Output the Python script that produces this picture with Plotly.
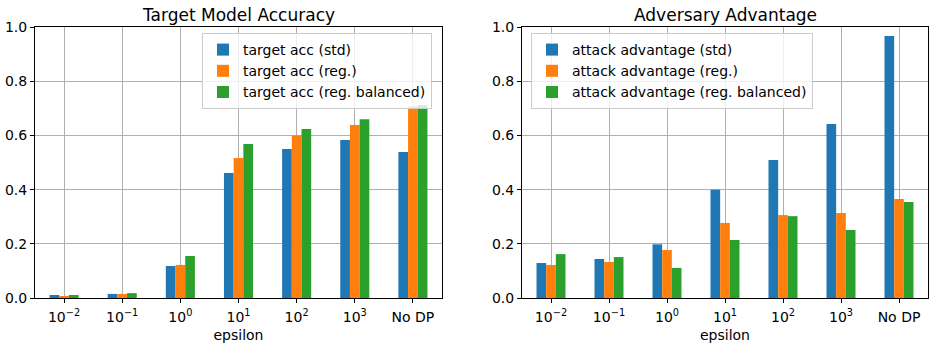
import plotly.graph_objects as go

categories = ["10<sup>−2</sup>", "10<sup>−1</sup>", "10<sup>0</sup>", "10<sup>1</sup>",
              "10<sup>2</sup>", "10<sup>3</sup>", "No DP"]

acc_std = [0.011, 0.015, 0.118, 0.461, 0.550, 0.583, 0.539]
acc_reg = [0.007, 0.015, 0.122, 0.517, 0.600, 0.638, 0.708]
acc_bal = [0.011, 0.018, 0.155, 0.568, 0.624, 0.660, 0.712]

adv_std = [0.129, 0.144, 0.198, 0.399, 0.509, 0.642, 0.967]
adv_reg = [0.122, 0.133, 0.177, 0.277, 0.306, 0.314, 0.365]
adv_bal = [0.162, 0.151, 0.111, 0.214, 0.302, 0.251, 0.354]

y_ticks = [0.0, 0.2, 0.4, 0.6, 0.8, 1.0]

colors = ["#1f77b4", "#ff7f0e", "#2ca02c"]
FONT = "DejaVu Sans"
W, H = 936, 349

fig = go.Figure()

left_series = [("target acc (std)", acc_std), ("target acc (reg.)", acc_reg),
               ("target acc (reg. balanced)", acc_bal)]
right_series = [("attack advantage (std)", adv_std), ("attack advantage (reg.)", adv_reg),
                ("attack advantage (reg. balanced)", adv_bal)]

for i, (name, vals) in enumerate(left_series):
    fig.add_trace(go.Bar(x=categories, y=vals, name=name, marker_color=colors[i],
                         marker_line_width=0, xaxis="x", yaxis="y", legend="legend",
                         offsetgroup=str(i)))
for i, (name, vals) in enumerate(right_series):
    fig.add_trace(go.Bar(x=categories, y=vals, name=name, marker_color=colors[i],
                         marker_line_width=0, xaxis="x2", yaxis="y2", legend="legend2",
                         offsetgroup=str(i)))

def px_x(p):
    return p / W

def px_y(p):
    return 1 - p / H

ydom = [px_y(298), px_y(27)]
common_x = dict(type="category", range=[-0.5, 6.5], showgrid=True, gridcolor="#b0b0b0",
                gridwidth=0.8, showline=True, linecolor="black", linewidth=1, mirror=True,
                ticks="outside", ticklen=4, tickcolor="black", automargin=False,
                ticklabelstandoff=2,
                tickfont=dict(family=FONT, size=14, color="black"),
                title=dict(text="epsilon", font=dict(family=FONT, size=14, color="black"),
                           standoff=6))
common_y = dict(range=[0, 1], tickvals=y_ticks, tickformat=".1f", showgrid=True,
                gridcolor="#b0b0b0", gridwidth=0.8, showline=True, linecolor="black",
                linewidth=1, mirror=True, ticks="outside", ticklen=4, tickcolor="black",
                zeroline=False, automargin=False,
                tickfont=dict(family=FONT, size=14, color="black"))

legend_common = dict(font=dict(family=FONT, size=14, color="black"),
                     bgcolor="rgba(255,255,255,0.8)", bordercolor="#cccccc", borderwidth=1,
                     xanchor="left", yanchor="top", tracegroupgap=0, itemwidth=30)

fig.update_layout(
    width=W, height=H, margin=dict(l=0, r=0, t=0, b=0),
    paper_bgcolor="white", plot_bgcolor="white",
    barmode="group", bargap=0.5, bargroupgap=0,
    font=dict(family=FONT, color="black"),
    xaxis=dict(domain=[px_x(35), px_x(442)], anchor="y", **common_x),
    yaxis=dict(domain=ydom, anchor="x", **common_y),
    xaxis2=dict(domain=[px_x(522), px_x(928)], anchor="y2", **common_x),
    yaxis2=dict(domain=ydom, anchor="x2", **common_y),
    legend=dict(x=px_x(202), y=px_y(33), **legend_common),
    legend2=dict(x=px_x(531), y=px_y(33), **legend_common),
    annotations=[
        dict(text="Target Model Accuracy", x=(px_x(35) + px_x(442)) / 2, y=px_y(15),
             xref="paper", yref="paper", xanchor="center", yanchor="middle",
             showarrow=False, font=dict(family=FONT, size=17, color="black")),
        dict(text="Adversary Advantage", x=(px_x(522) + px_x(928)) / 2, y=px_y(15),
             xref="paper", yref="paper", xanchor="center", yanchor="middle",
             showarrow=False, font=dict(family=FONT, size=17, color="black")),
    ],
)

fig.write_html("out.html")
